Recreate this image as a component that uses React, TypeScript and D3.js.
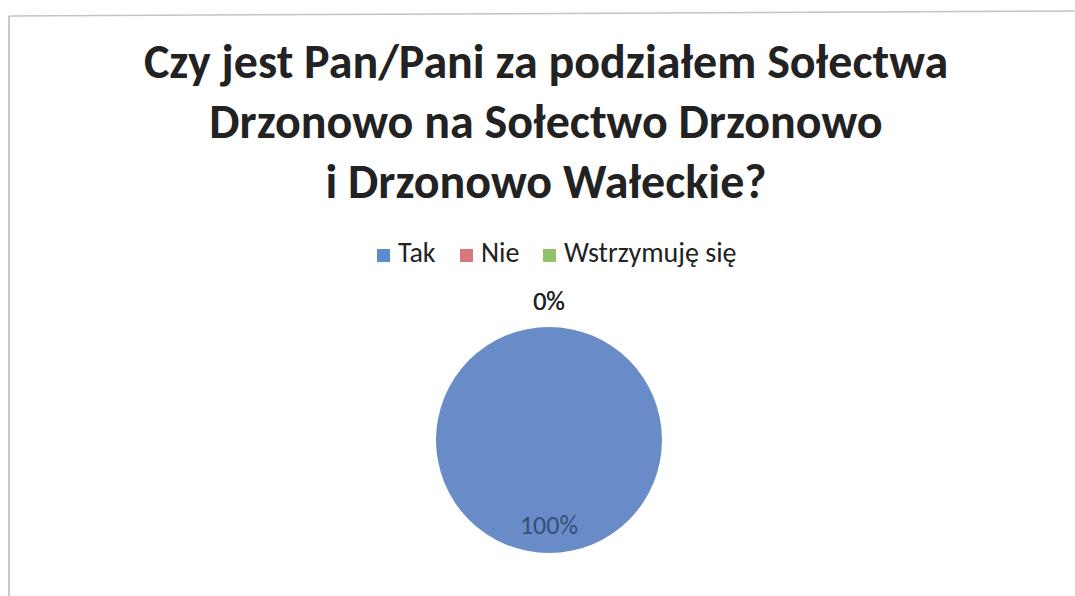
import React from "react";
import * as d3 from "d3";

const titleLines = [
  "Czy jest Pan/Pani za podziałem Sołectwa",
  "Drzonowo na Sołectwo Drzonowo",
  "i Drzonowo Wałeckie?",
];
const categories = ["Tak", "Nie", "Wstrzymuję się"];
const values = [100, 0, 0];
const legendColors = ["#5b8ccc", "#d9787a", "#8fc26a"];
const sliceColors = ["#698cc8", "#c0504d", "#9bbb59"];

const W = 1075;
const H = 596;
const FONT = "Carlito, Calibri, Lato, 'Open Sans', sans-serif";

export default function App() {
  const cx = 549;
  const cy = 440;
  const r = 113;
  const total = d3.sum(values);
  const pie = d3.pie<number>().sort(null).value((d) => d);
  const arcs = pie(values);
  const arc = d3.arc<d3.PieArcDatum<number>>().innerRadius(0).outerRadius(r);
  const labelArcIn = d3.arc<d3.PieArcDatum<number>>().innerRadius(r * 0.75).outerRadius(r * 0.75);
  const labelArcOut = d3.arc<d3.PieArcDatum<number>>().innerRadius(r * 1.18).outerRadius(r * 1.18);

  const legendX = [377, 460, 543];

  return (
    <svg width={W} height={H} style={{ position: "absolute", left: 0, top: 0, background: "#fff" }}>
      <rect x={0} y={0} width={W} height={H} fill="#fff" />
      <line x1={9} y1={16} x2={W} y2={11} stroke="#c4c4c4" strokeWidth={1.5} />
      <line x1={9} y1={16} x2={9} y2={H} stroke="#b8b8b8" strokeWidth={1.5} />
      {titleLines.map((t, i) => (
        <text
          key={i}
          x={546}
          y={78 + i * 60}
          textAnchor="middle"
          fontFamily={FONT}
          fontWeight="bold"
          fontSize={48}
          fill="#222"
        >
          {t}
        </text>
      ))}
      {categories.map((c, i) => (
        <g key={c}>
          <rect x={legendX[i]} y={249} width={13} height={13} fill={legendColors[i]} />
          <text x={legendX[i] + 21} y={262} fontFamily={FONT} fontSize={28} fill="#222">
            {c}
          </text>
        </g>
      ))}
      <g transform={`translate(${cx},${cy})`}>
        {arcs.map((a, i) =>
          a.value > 0 ? <path key={i} d={arc(a) || ""} fill={sliceColors[i]} /> : null
        )}
        {arcs.map((a, i) => {
          const pct = Math.round((a.value / total) * 100) + "%";
          if (a.value > 0) {
            const [x, y] = labelArcIn.centroid(a);
            return (
              <text key={"l" + i} x={x} y={y + 9} textAnchor="middle" fontFamily={FONT} fontSize={26} fill="#34507a">
                {pct}
              </text>
            );
          }
          const [x, y] = labelArcOut.centroid(a);
          return (
            <text key={"l" + i} x={x} y={y + 3} textAnchor="middle" fontFamily={FONT} fontSize={26} fill="#222">
              {pct}
            </text>
          );
        })}
      </g>
    </svg>
  );
}
